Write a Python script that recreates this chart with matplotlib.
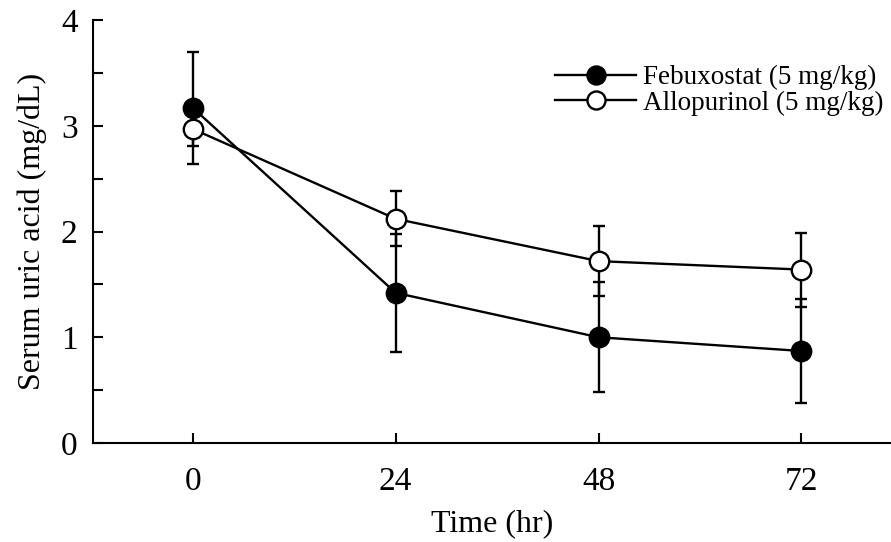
import matplotlib
matplotlib.use("Agg")
import matplotlib.pyplot as plt
from matplotlib.ticker import MultipleLocator
from matplotlib.lines import Line2D

time_hr = [0, 24, 48, 72]
febuxostat = [3.17, 1.42, 1.00, 0.87]
febuxostat_err = [0.53, 0.56, 0.52, 0.49]
allopurinol = [2.97, 2.12, 1.72, 1.64]
allopurinol_err = [0.16, 0.26, 0.33, 0.35]
xticks = [0, 24, 48, 72]
yticks = [0, 1, 2, 3, 4]
labels = ['Febuxostat (5 mg/kg)', 'Allopurinol (5 mg/kg)']

plt.rcParams['font.family'] = ['Liberation Serif', 'DejaVu Serif']

fig = plt.figure(figsize=(8.91, 5.42), dpi=100)
ax = fig.add_axes([0.1044, 0.1827, 0.8956, 0.7803])

lw = 1.7
common = dict(color='black', lw=lw, elinewidth=lw, capsize=4.5, capthick=lw,
              ms=14, mew=lw, mec='black')
ax.errorbar(time_hr, febuxostat, yerr=febuxostat_err, fmt='-o', mfc='black',
            zorder=3, **common)
ax.errorbar(time_hr, allopurinol, yerr=allopurinol_err, fmt='-o', mfc='white',
            zorder=4, **common)

ax.set_xlim(-11.8, 82.6)
ax.set_ylim(0, 4)
ax.set_xticks(xticks)
ax.set_yticks(yticks)
ax.yaxis.set_minor_locator(MultipleLocator(0.5))
ax.tick_params(axis='both', which='both', direction='in', width=1.5, labelsize=24)
ax.tick_params(axis='both', which='major', length=7)
ax.tick_params(axis='y', which='minor', length=7)
ax.tick_params(axis='x', pad=17)
ax.tick_params(axis='y', pad=11)
for s in ['top', 'right']:
    ax.spines[s].set_visible(False)
for s in ['left', 'bottom']:
    ax.spines[s].set_linewidth(1.5)

ax.set_xlabel('Time (hr)', fontsize=23, labelpad=9)
ax.set_ylabel('Serum uric acid (mg/dL)', fontsize=23, labelpad=10)

handles = [
    Line2D([], [], color='black', lw=lw, marker='o', ms=13, mew=lw, mfc='black', mec='black'),
    Line2D([], [], color='black', lw=lw, marker='o', ms=13, mew=lw, mfc='white', mec='black'),
]
ax.legend(handles, labels, loc='upper left', bbox_to_anchor=(0.579, 0.893),
          frameon=False, fontsize=19.5, handlelength=3.0, handletextpad=0.26,
          labelspacing=0.0, borderaxespad=0, borderpad=0)

fig.savefig('out.png', dpi=100)
